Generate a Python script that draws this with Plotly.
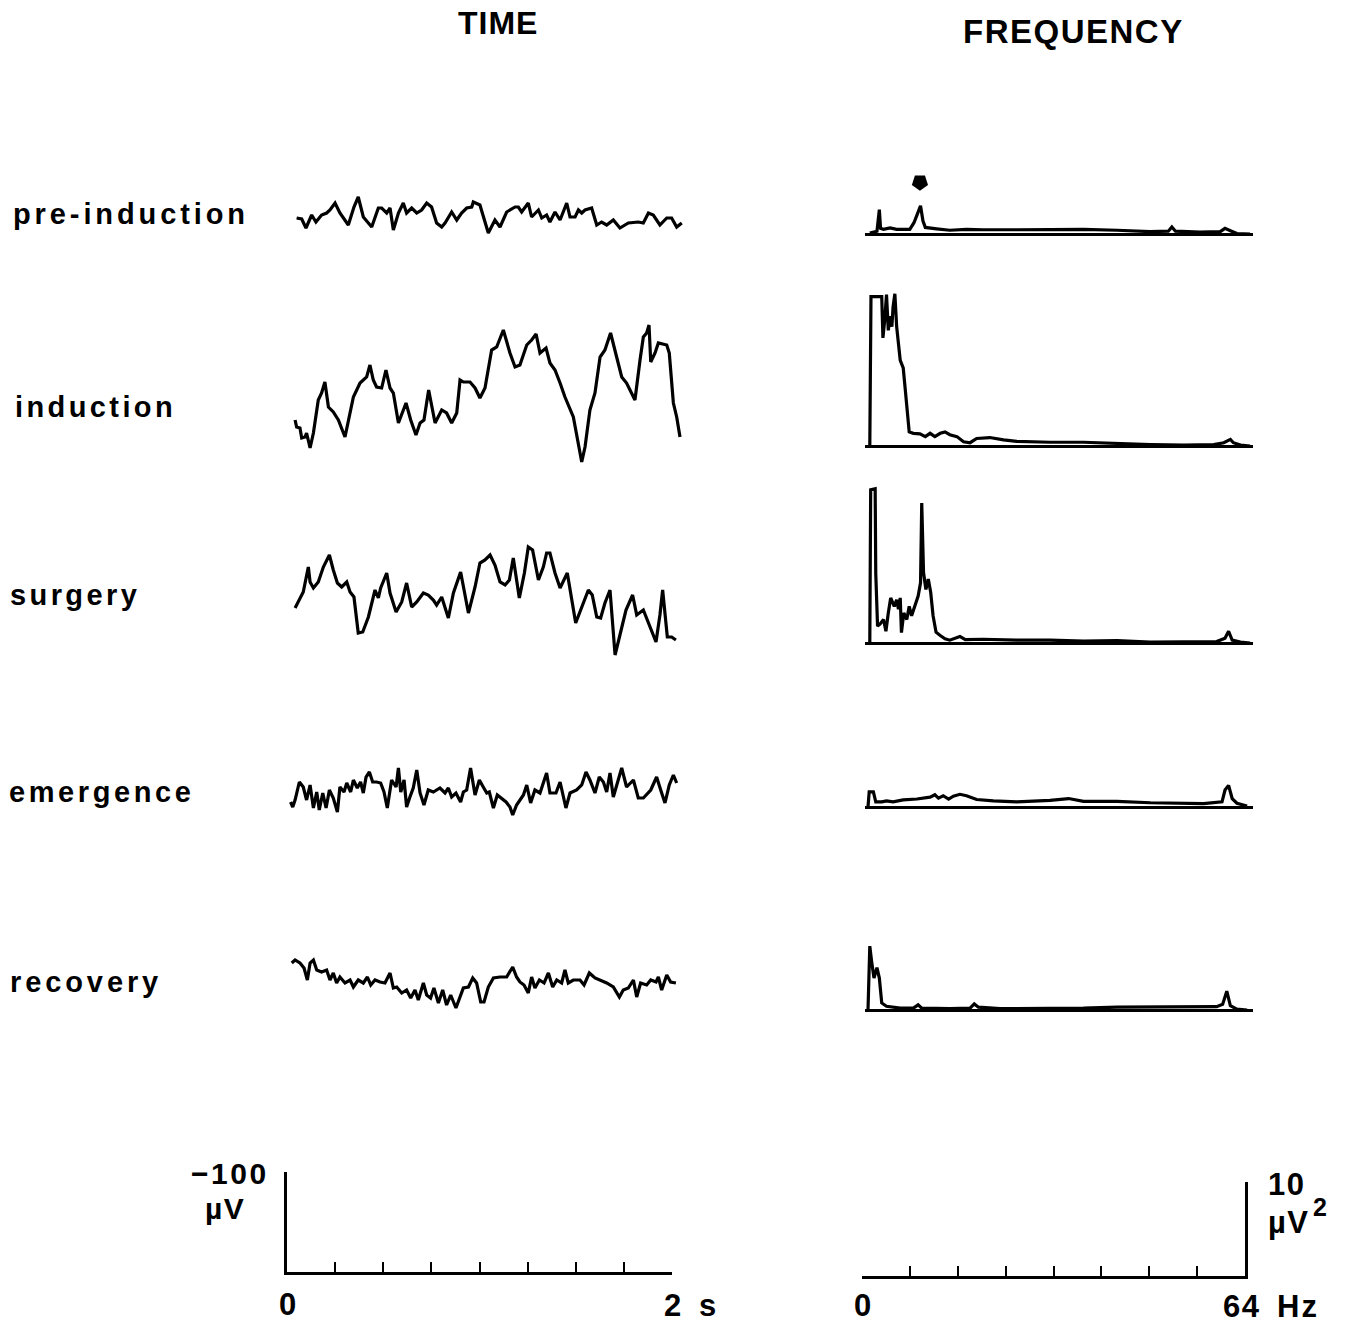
import plotly.graph_objects as go

W, H = 1350, 1327

# ---------------- TIME traces (t in s, amplitude in µV, negative = up) ----------------
pre_t = [0.034, 0.060, 0.082, 0.111, 0.133, 0.162, 0.188, 0.205, 0.231, 0.256, 0.299, 0.328, 0.350, 0.376,
         0.419, 0.453, 0.470, 0.496, 0.513, 0.530, 0.556, 0.581, 0.598, 0.624, 0.650, 0.675, 0.701, 0.726,
         0.752, 0.778, 0.795, 0.829, 0.855, 0.880, 0.906, 0.932, 0.940, 0.974, 1.017, 1.051, 1.077, 1.111,
         1.154, 1.171, 1.188, 1.222, 1.239, 1.274, 1.291, 1.316, 1.333, 1.359, 1.385, 1.419, 1.436, 1.462,
         1.479, 1.496, 1.513, 1.547, 1.573, 1.598, 1.624, 1.658, 1.692, 1.735, 1.786, 1.812, 1.838, 1.863,
         1.897, 1.932, 1.957, 1.983, 2.009]
pre_v = [2, 3, 12, -1, 6, -1, -3, -6, -13, -3, 9, -9, -19, 1, 11, -8, -8, -3, -8, 14, -3, -13, -3, -8, -3, -6,
         -13, -9, 7, 11, 7, -4, 4, -3, -8, -9, -14, -11, 17, 4, 11, -4, -9, -9, -4, -13, 1, -6, 2, -1, 6, -4,
         4, -13, 1, 1, -6, -3, -6, -8, 9, 6, 9, 4, 12, 7, 6, 7, -3, -1, 9, 2, 2, 11, 7]

ind_t = [0.026, 0.034, 0.051, 0.060, 0.077, 0.085, 0.103, 0.120, 0.145, 0.162, 0.179, 0.197, 0.222, 0.248,
         0.282, 0.299, 0.325, 0.359, 0.393, 0.410, 0.427, 0.444, 0.470, 0.492, 0.513, 0.530, 0.556, 0.595,
         0.619, 0.646, 0.667, 0.687, 0.711, 0.744, 0.778, 0.803, 0.829, 0.855, 0.872, 0.889, 0.923, 0.949,
         0.974, 1.000, 1.034, 1.060, 1.094, 1.128, 1.154, 1.179, 1.214, 1.239, 1.262, 1.282, 1.313, 1.333,
         1.359, 1.385, 1.410, 1.453, 1.479, 1.496, 1.513, 1.538, 1.564, 1.590, 1.615, 1.644, 1.675, 1.701,
         1.726, 1.769, 1.795, 1.812, 1.829, 1.841, 1.850, 1.872, 1.889, 1.932, 1.945, 1.966, 1.983, 2.000]
ind_v = [20, 27, 28, 38, 37, 33, 48, 33, 0, -7, -18, 7, 12, 20, 37, 20, -3, -17, -23, -35, -20, -13, -12, -30,
         -12, -7, 23, 3, 20, 35, 23, 20, -10, 23, 10, 13, 23, 13, -20, -18, -18, -12, -2, -12, -50, -53, -70,
         -47, -33, -35, -55, -60, -66, -47, -52, -37, -30, -17, -3, 17, 43, 62, 47, 10, -7, -43, -50, -67, -43,
         -23, -17, 0, -40, -63, -67, -75, -38, -47, -57, -55, -47, 3, 17, 37]

sur_t = [0.026, 0.068, 0.094, 0.103, 0.120, 0.145, 0.171, 0.202, 0.222, 0.243, 0.265, 0.291, 0.308, 0.328,
         0.350, 0.373, 0.402, 0.436, 0.453, 0.465, 0.496, 0.513, 0.544, 0.573, 0.598, 0.624, 0.650, 0.684,
         0.709, 0.735, 0.752, 0.778, 0.812, 0.838, 0.875, 0.915, 0.949, 0.974, 1.000, 1.026, 1.051, 1.077,
         1.103, 1.125, 1.145, 1.176, 1.202, 1.222, 1.244, 1.274, 1.299, 1.316, 1.333, 1.359, 1.385, 1.422,
         1.465, 1.496, 1.530, 1.550, 1.573, 1.593, 1.615, 1.641, 1.667, 1.692, 1.723, 1.757, 1.778, 1.812,
         1.838, 1.877, 1.897, 1.911, 1.935, 1.957, 1.979]
sur_v = [8, -8, -33, -18, -12, -18, -33, -45, -30, -17, -13, -18, -8, -3, 33, 32, 17, -10, -2, -12, -27, -7,
         12, 2, -17, 7, 2, -7, -5, 0, 5, -3, 18, -7, -28, 13, -13, -37, -40, -45, -35, -18, -15, -20, -42, -2,
         -27, -53, -50, -20, -33, -47, -47, -27, -12, -27, 23, 8, -10, -5, 17, 18, 3, -10, 55, 35, 10, -5, 15,
         10, 23, 42, 15, -10, 37, 37, 40]

eme_t = [0.003, 0.014, 0.026, 0.048, 0.068, 0.085, 0.103, 0.120, 0.137, 0.150, 0.168, 0.185, 0.202, 0.222,
         0.243, 0.256, 0.277, 0.291, 0.311, 0.325, 0.345, 0.362, 0.376, 0.390, 0.407, 0.424, 0.444, 0.465,
         0.482, 0.499, 0.521, 0.544, 0.556, 0.568, 0.585, 0.598, 0.615, 0.632, 0.650, 0.667, 0.687, 0.709,
         0.735, 0.769, 0.795, 0.812, 0.829, 0.851, 0.875, 0.889, 0.906, 0.926, 0.949, 0.971, 0.991, 1.009,
         1.022, 1.043, 1.063, 1.080, 1.108, 1.128, 1.142, 1.162, 1.197, 1.214, 1.234, 1.256, 1.282, 1.299,
         1.316, 1.333, 1.364, 1.385, 1.415, 1.436, 1.470, 1.496, 1.518, 1.538, 1.564, 1.586, 1.607, 1.624,
         1.641, 1.658, 1.679, 1.701, 1.726, 1.761, 1.786, 1.812, 1.850, 1.880, 1.906, 1.923, 1.945, 1.966,
         1.983]
eme_v = [12, 17, 10, -8, -3, 10, -5, 18, 2, 20, 3, 18, 0, 8, 22, -3, 2, -7, 2, -10, -2, -8, 3, -13, -18, -8,
         -8, -7, 2, 18, -10, -3, -22, 2, -10, 17, 7, -2, -20, 3, 15, 0, 2, -2, 3, -2, 7, 3, 12, 2, 0, -22, 5,
         -10, -3, 3, 2, 18, 5, 8, 12, 17, 25, 15, 5, -5, 13, 0, 3, -7, -17, 3, 3, -8, 18, 3, 0, -5, -18, -10,
         3, -13, -8, 2, -17, 7, -8, -22, -3, -10, 8, 8, 0, -13, 3, 13, -5, -15, -7]

rec_t = [0.009, 0.026, 0.051, 0.072, 0.089, 0.103, 0.120, 0.137, 0.162, 0.188, 0.205, 0.222, 0.239, 0.256,
         0.282, 0.308, 0.325, 0.350, 0.376, 0.397, 0.414, 0.436, 0.462, 0.487, 0.513, 0.530, 0.547, 0.573,
         0.598, 0.619, 0.641, 0.658, 0.684, 0.701, 0.721, 0.738, 0.761, 0.783, 0.803, 0.824, 0.851, 0.872,
         0.889, 0.915, 0.937, 0.957, 0.978, 0.995, 1.017, 1.043, 1.077, 1.111, 1.142, 1.162, 1.179, 1.200,
         1.222, 1.239, 1.256, 1.279, 1.303, 1.325, 1.347, 1.368, 1.393, 1.410, 1.427, 1.453, 1.487, 1.508,
         1.535, 1.564, 1.590, 1.624, 1.658, 1.689, 1.709, 1.735, 1.761, 1.778, 1.798, 1.829, 1.850, 1.877,
         1.889, 1.906, 1.932, 1.952, 1.979]
rec_v = [-17, -20, -17, -12, 0, -17, -20, -10, -8, -10, 0, -7, 3, -3, 3, 0, 7, 0, 3, -3, 5, 0, 2, 3, -7, 8, 7,
         13, 10, 18, 10, 20, 3, 15, 18, 8, 23, 10, 25, 15, 28, 17, 8, 7, -2, 3, 22, 22, 7, -2, -3, -3, -13, -3,
         2, 5, 13, -3, 8, 0, 3, -7, 7, 0, 3, -10, 3, 0, 0, 5, -7, -2, 0, 3, 7, 17, 10, 8, 0, 17, 3, 5, 0, 2, -3,
         10, -5, 2, 3]

# ---------------- FREQUENCY spectra (f in Hz, power in µV²) ----------------
pre_f = [0.3, 1.5, 1.9, 2.1, 2.6, 3.7, 4.8, 7.0, 7.7, 8.4, 8.8, 9.2, 9.6, 11.5, 13.7, 16.5, 19.3, 24.9, 30.5,
         36.1, 41.7, 47.3, 50.3, 50.9, 51.5, 55.6, 59.0, 59.8, 60.7, 61.8, 64.0]
pre_p = [0.1, 0.3, 2.6, 0.6, 0.5, 0.65, 0.5, 0.5, 1.2, 2.5, 3.0, 1.4, 0.7, 0.55, 0.4, 0.5, 0.45, 0.45, 0.5,
         0.5, 0.4, 0.25, 0.3, 0.75, 0.3, 0.2, 0.25, 0.6, 0.35, 0.05, 0.0]

ind_f = [0.3, 0.5, 2.3, 2.5, 2.8, 3.1, 3.4, 3.7, 4.0, 4.2, 4.5, 4.8, 5.4, 5.9, 6.2, 6.9, 7.6, 8.7, 9.6, 10.4,
         11.2, 12.1, 12.9, 13.7, 14.9, 16.0, 17.1, 18.2, 20.4, 22.7, 24.9, 30.5, 36.1, 41.7, 47.3, 52.9, 57.9,
         59.6, 60.7, 61.2, 62.4, 64.0]
ind_p = [0.0, 15.9, 15.9, 11.5, 13.4, 16.1, 12.3, 13.8, 12.7, 14.8, 16.2, 12.7, 9.1, 8.3, 6.3, 1.5, 1.35, 1.3,
         1.0, 1.35, 1.0, 1.35, 1.5, 1.2, 1.0, 0.45, 0.35, 0.8, 0.9, 0.65, 0.5, 0.4, 0.4, 0.25, 0.15, 0.1, 0.15,
         0.35, 0.7, 0.35, 0.1, 0.0]

sur_f = [0.3, 0.45, 1.2, 1.3, 1.6, 2.0, 2.6, 3.0, 3.4, 3.8, 4.4, 4.8, 5.1, 5.4, 5.6, 6.0, 6.5, 6.9, 7.3, 7.9,
         8.4, 8.8, 9.0, 9.3, 9.7, 10.1, 10.5, 10.9, 11.4, 12.1, 12.9, 13.7, 15.4, 16.3, 19.3, 24.9, 30.5, 36.1,
         41.7, 47.3, 52.9, 58.4, 59.8, 60.4, 61.0, 62.4, 64.0]
sur_p = [0.0, 16.3, 16.4, 7.4, 1.8, 2.0, 2.5, 1.25, 3.2, 4.8, 3.9, 4.6, 3.6, 4.8, 1.1, 3.2, 2.5, 3.9, 2.9, 4.1,
         5.0, 6.4, 14.9, 7.5, 5.7, 6.8, 5.4, 2.9, 1.15, 0.8, 0.45, 0.3, 0.7, 0.35, 0.4, 0.3, 0.3, 0.2, 0.25,
         0.1, 0.1, 0.15, 0.5, 1.25, 0.3, 0.1, 0.0]

eme_f = [0.0, 0.2, 0.9, 1.3, 2.3, 3.1, 4.2, 5.9, 8.2, 10.4, 11.2, 11.8, 12.6, 13.5, 14.3, 15.4, 16.5, 18.2,
         21.0, 24.9, 30.5, 33.6, 36.1, 41.7, 47.3, 52.9, 56.2, 59.3, 59.8, 60.4, 61.0, 61.8, 63.5]
eme_p = [0.0, 1.6, 1.6, 0.55, 0.55, 0.65, 0.55, 0.75, 0.85, 1.05, 1.3, 0.95, 1.2, 0.85, 1.15, 1.35, 1.2, 0.8,
         0.65, 0.55, 0.7, 0.9, 0.6, 0.6, 0.45, 0.4, 0.35, 0.55, 1.8, 2.3, 0.9, 0.4, 0.1]

rec_f = [0.0, 0.1, 0.3, 0.6, 1.0, 1.5, 1.9, 2.3, 3.1, 5.4, 7.6, 8.4, 9.0, 13.7, 17.1, 17.8, 18.5, 22.1, 30.5,
         36.1, 41.7, 47.3, 52.9, 58.4, 59.4, 60.1, 60.7, 61.8, 63.5]
rec_p = [0.0, 1.6, 6.8, 5.2, 3.4, 4.5, 3.4, 0.75, 0.4, 0.2, 0.2, 0.55, 0.2, 0.15, 0.2, 0.65, 0.3, 0.15, 0.15,
         0.2, 0.3, 0.3, 0.3, 0.35, 0.6, 2.0, 0.45, 0.1, 0.0]

marker_f = [8.7]     # arrow over the pre-induction alpha peak
marker_p = [5.5]

stages = ["pre-induction", "induction", "surgery", "emergence", "recovery"]
time_series = [(pre_t, pre_v), (ind_t, ind_v), (sur_t, sur_v), (eme_t, eme_v), (rec_t, rec_v)]
freq_series = [(pre_f, pre_p), (ind_f, ind_p), (sur_f, sur_p), (eme_f, eme_p), (rec_f, rec_p)]

time_ticks = [0, 0.25, 0.5, 0.75, 1.0, 1.25, 1.5, 1.75, 2.0]
freq_ticks = [0, 8, 16, 24, 32, 40, 48, 56, 64]

# ---------------- layout geometry (pixels) ----------------
time_center = [216, 400, 600, 790, 980]
freq_base = [234, 446, 643, 807, 1010]
label_mid = [214, 407, 595, 792, 982]
label_left = [11, 13, 8, 7, 8]
label_spacing = [3.9, 3.4, 3.4, 3.6, 3.9]
T_PPS = 195.0        # px per second
F_PPH = 5.97         # px per Hz
F_PPU = 9.4          # px per µV²

fig = go.Figure()
axes = {}
count = [0]


def add_axes(x0, x1, ytop, ybot, xr, yr, xextra=None, yextra=None):
    count[0] += 1
    s = "" if count[0] == 1 else str(count[0])
    xa = dict(domain=[x0 / W, x1 / W], range=xr, visible=False, anchor="y" + s, fixedrange=True)
    ya = dict(domain=[1 - ybot / H, 1 - ytop / H], range=yr, visible=False, anchor="x" + s, fixedrange=True)
    if xextra:
        xa.update(xextra)
    if yextra:
        ya.update(yextra)
    axes["xaxis" + s] = xa
    axes["yaxis" + s] = ya
    return "x" + s, "y" + s


LINE = dict(color="black", width=3.2)
AXW = 3

for i in range(5):
    # time trace
    t0, t1 = -0.05, 2.05
    xa, ya = add_axes(290 + t0 * T_PPS, 290 + t1 * T_PPS, time_center[i] - 90, time_center[i] + 90,
                      [t0, t1], [90, -90])
    t, v = time_series[i]
    fig.add_trace(go.Scatter(x=t, y=v, mode="lines", line=LINE, xaxis=xa, yaxis=ya,
                             showlegend=False, hoverinfo="skip"))
    # spectrum
    f0, f1 = -0.5, 64.5
    xb, yb = add_axes(868 + f0 * F_PPH, 868 + f1 * F_PPH, freq_base[i] - 175, freq_base[i] + 20,
                      [f0, f1], [-20 / F_PPU, 175 / F_PPU],
                      yextra=dict(visible=True, showticklabels=False, showgrid=False, ticks="",
                                  showline=False, zeroline=True, zerolinecolor="black",
                                  zerolinewidth=AXW))
    f, p = freq_series[i]
    fig.add_trace(go.Scatter(x=f, y=p, mode="lines", line=LINE, xaxis=xb, yaxis=yb,
                             showlegend=False, hoverinfo="skip"))
    if i == 0:
        fig.add_trace(go.Scatter(x=marker_f, y=marker_p, mode="markers", xaxis=xb, yaxis=yb,
                                 marker=dict(symbol="pentagon", angle=180, size=17, color="black"),
                                 showlegend=False, hoverinfo="skip"))

# time scale bar
xa, ya = add_axes(287, 672, 1172, 1272, [0, 2], [0, -100],
                  xextra=dict(visible=True, showline=True, linecolor="black", linewidth=AXW,
                              ticks="inside", tickvals=time_ticks, ticklen=10, tickwidth=2.2,
                              tickcolor="black", showticklabels=False, showgrid=False, zeroline=False),
                  yextra=dict(visible=True, showline=True, linecolor="black", linewidth=AXW,
                              ticks="", showticklabels=False, showgrid=False, zeroline=False))
fig.add_trace(go.Scatter(x=[None], y=[None], xaxis=xa, yaxis=ya, showlegend=False, hoverinfo="skip"))

# frequency scale bar
xb, yb = add_axes(862, 1245, 1182, 1276, [0, 64], [0, 10],
                  xextra=dict(visible=True, showline=True, linecolor="black", linewidth=AXW,
                              ticks="inside", tickvals=freq_ticks, ticklen=10, tickwidth=2.2,
                              tickcolor="black", showticklabels=False, showgrid=False, zeroline=False),
                  yextra=dict(visible=True, side="right", showline=True, linecolor="black",
                              linewidth=AXW, ticks="", showticklabels=False, showgrid=False,
                              zeroline=False))
fig.add_trace(go.Scatter(x=[None], y=[None], xaxis=xb, yaxis=yb, showlegend=False, hoverinfo="skip"))

FONT = "Liberation Sans, Arial, sans-serif"


def ann(text, x, y, size, xanchor="center", spacing=0, bold=True):
    if spacing:
        text = '<span style="letter-spacing:%gpx">%s</span>' % (spacing, text)
    if bold:
        text = "<b>%s</b>" % text
    return dict(text=text, x=x / W, y=1 - y / H, xref="paper", yref="paper", xanchor=xanchor,
                yanchor="middle", showarrow=False, font=dict(family=FONT, size=size, color="black"))


annotations = [
    ann("TIME", 498, 23, 32, spacing=1),
    ann("FREQUENCY", 1073, 31, 33, spacing=1.5),
]
for i, s in enumerate(stages):
    annotations.append(ann(s, label_left[i], label_mid[i], 29, xanchor="left", spacing=label_spacing[i]))

annotations += [
    ann("\u2212100", 271, 1173, 30, xanchor="right", spacing=2.5),
    ann("\u00b5V", 225, 1208, 30, spacing=1.5),
    ann("0", 287, 1304, 31),
    ann("2", 672, 1305, 31),
    ann("s", 707, 1305, 31),
    ann("0", 862, 1305, 31),
    ann("64", 1241, 1306, 31, spacing=1.5),
    ann("Hz", 1298, 1306, 31, spacing=2),
    ann("10", 1286, 1184, 31, spacing=1.5),
    ann("\u00b5V", 1266, 1222, 31, xanchor="left", spacing=1.5),
    ann("2", 1320, 1207, 25),
]

fig.update_layout(
    width=W, height=H,
    margin=dict(l=0, r=0, t=0, b=0),
    paper_bgcolor="white", plot_bgcolor="rgba(0,0,0,0)",
    showlegend=False,
    annotations=annotations,
    **axes,
)

fig.write_html("out.html", config={"displayModeBar": False},
               post_script="document.body.style.margin='0';document.body.style.padding='0';")
